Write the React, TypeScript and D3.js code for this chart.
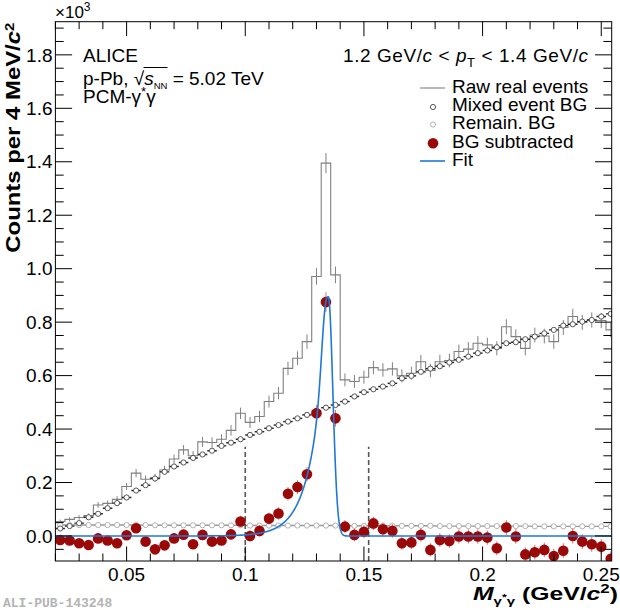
import React from "react";
import * as d3 from "d3";

// ---------- data (units of 10^3 counts per 4 MeV/c^2) ----------
const BIN_START = 0.02;
const BIN_WIDTH = 0.004;

const rawRealEvents = [
  0.054, 0.062, 0.069, 0.076, 0.116, 0.122, 0.137, 0.185, 0.235, 0.212,
  0.218, 0.247, 0.288, 0.322, 0.300, 0.352, 0.350, 0.362, 0.395, 0.459,
  0.425, 0.447, 0.503, 0.534, 0.627, 0.665, 0.727, 0.971, 1.395, 0.977,
  0.584, 0.578, 0.594, 0.630, 0.621, 0.625, 0.599, 0.609, 0.652, 0.619,
  0.652, 0.656, 0.690, 0.699, 0.721, 0.715, 0.702, 0.783, 0.746, 0.702,
  0.752, 0.748, 0.727, 0.780, 0.821, 0.799, 0.808, 0.806, 0.771,
];

const mixedEventBG = [
  0.028, 0.037, 0.048, 0.070, 0.083, 0.104, 0.123, 0.144, 0.170, 0.190,
  0.215, 0.240, 0.260, 0.275, 0.292, 0.305, 0.319, 0.337, 0.349, 0.362,
  0.378, 0.390, 0.403, 0.415, 0.428, 0.440, 0.453, 0.468, 0.480, 0.490,
  0.503, 0.522, 0.538, 0.549, 0.559, 0.571, 0.590, 0.599, 0.614, 0.626,
  0.635, 0.649, 0.659, 0.671, 0.684, 0.694, 0.706, 0.721, 0.725, 0.736,
  0.746, 0.758, 0.771, 0.787, 0.792, 0.802, 0.808, 0.821, 0.831,
];

const remainBG = [
  0.041, 0.041, 0.041, 0.041, 0.041, 0.041, 0.041, 0.041, 0.041, 0.041,
  0.040, 0.040, 0.040, 0.040, 0.040, 0.040, 0.040, 0.040, 0.040, 0.040,
  0.039, 0.039, 0.039, 0.039, 0.039, 0.039, 0.039, 0.039, 0.039, 0.039,
  0.038, 0.038, 0.038, 0.038, 0.038, 0.038, 0.038, 0.038, 0.038, 0.038,
  0.037, 0.037, 0.037, 0.037, 0.037, 0.037, 0.037, 0.037, 0.037, 0.037,
  0.036, 0.036, 0.036, 0.036, 0.036, 0.036, 0.036, 0.036, 0.036,
];

const bgSubtracted = [
  -0.015, -0.017, -0.027, -0.034, -0.009, -0.017, -0.027, 0.003, 0.029, -0.021,
  -0.050, -0.035, -0.009, 0.005, -0.031, 0.004, -0.021, -0.017, 0.006, 0.054,
  0.000, 0.019, 0.065, 0.084, 0.158, 0.183, 0.231, 0.459, 0.875, 0.440,
  0.035, 0.004, 0.016, 0.047, 0.025, 0.019, -0.027, -0.024, 0.004, -0.052,
  -0.015, -0.019, -0.002, -0.002, -0.002, -0.006, -0.046, 0.032, -0.002, -0.069,
  -0.061, -0.052, -0.075, -0.055, 0.000, -0.021, -0.031, -0.040, -0.085,
];

// fit: Gaussian with exponential low-mass tail
const FIT_AMPLITUDE = 0.895;
const FIT_MASS = 0.135;
const FIT_SIGMA = 0.0019;
const FIT_LAMBDA = 0.0065;

const integrationWindow = [0.1, 0.152];
const WINDOW_TOP = 0.334;

const xMajorTicks = [0.05, 0.1, 0.15, 0.2, 0.25];
const xTickLabels = ["0.05", "0.1", "0.15", "0.2", "0.25"];
const yMajorTicks = [0, 0.2, 0.4, 0.6, 0.8, 1.0, 1.2, 1.4, 1.6, 1.8];
const yTickLabels = ["0.0", "0.2", "0.4", "0.6", "0.8", "1.0", "1.2", "1.4", "1.6", "1.8"];

// ---------- layout ----------
const W = 620;
const H = 610;
const L = 55.4;
const R = 611.7;
const T = 21.7;
const B = 561;
const FONT = "'Liberation Sans', Arial, Helvetica, sans-serif";

const x = d3.scaleLinear().domain([0.02, 0.2544]).range([L, R]);
const y = d3.scaleLinear().domain([-0.0936, 1.924]).range([B, T]);

const lo = (k: number) => BIN_START + k * BIN_WIDTH;
const hi = (k: number) => BIN_START + (k + 1) * BIN_WIDTH;
const mid = (k: number) => BIN_START + (k + 0.5) * BIN_WIDTH;
const poisson = (v: number) => Math.sqrt(Math.max(v, 0) * 1000) / 1000;

const fitFn = (m: number) => {
  const g = Math.exp(-0.5 * ((m - FIT_MASS) / FIT_SIGMA) ** 2);
  const tail = m < FIT_MASS ? (1 - g) * Math.exp((m - FIT_MASS) / FIT_LAMBDA) : 0;
  return FIT_AMPLITUDE * (g + tail);
};

export default function App() {
  let rawPath = "";
  rawRealEvents.forEach((v, k) => {
    rawPath += (k === 0 ? `M${x(lo(k))},${y(v)}` : `V${y(v)}`) + `H${x(hi(k))}`;
  });

  const fitSamples = d3.range(0, 2346).map((i) => 0.02 + i * 0.0001);
  const fitPath = d3
    .line<number>()
    .x((m) => x(m))
    .y((m) => y(fitFn(m)))(fitSamples) as string;

  const remainPath = d3
    .line<number>()
    .x((_, k) => x(mid(k)))
    .y((v) => y(v))(remainBG) as string;

  const xMinor = d3.range(2, 26).map((i) => i / 100);
  const yMinor = d3.range(-1, 39).map((i) => i * 0.05);

  return (
    <svg
      width={W}
      height={H}
      viewBox={`0 0 ${W} ${H}`}
      style={{ position: "absolute", left: 0, top: 0, background: "#fff" }}
      fontFamily={FONT}
    >
      <defs>
        <clipPath id="plotClip">
          <rect x={L} y={T} width={R - L} height={B - T} />
        </clipPath>
      </defs>
      <rect x={0} y={0} width={W} height={H} fill="#fff" />

      <g clipPath="url(#plotClip)">
        {/* raw real events */}
        <path d={rawPath} fill="none" stroke="#808080" strokeWidth={1.1} />
        {rawRealEvents.map((v, k) => (
          <line
            key={"re" + k}
            x1={x(mid(k))}
            x2={x(mid(k))}
            y1={y(v - poisson(v))}
            y2={y(v + poisson(v))}
            stroke="#808080"
            strokeWidth={1}
          />
        ))}

        {/* remaining BG */}
        <path d={remainPath} fill="none" stroke="#999" strokeWidth={1.4} />
        {remainBG.map((v, k) => (
          <circle key={"rb" + k} cx={x(mid(k))} cy={y(v)} r={2.6} fill="#fff" stroke="#aaaaaa" strokeWidth={0.9} />
        ))}

        {/* mixed event BG */}
        {mixedEventBG.map((v, k) => (
          <line
            key={"mh" + k}
            x1={x(lo(k))}
            x2={x(hi(k))}
            y1={y(v)}
            y2={y(v)}
            stroke="#222"
            strokeWidth={1.4}
          />
        ))}
        {mixedEventBG.map((v, k) => (
          <circle key={"mb" + k} cx={x(mid(k))} cy={y(v)} r={2.6} fill="#fff" stroke="#444" strokeWidth={0.9} />
        ))}

        {/* integration window */}
        {integrationWindow.map((m, i) => (
          <line
            key={"win" + i}
            x1={x(m)}
            x2={x(m)}
            y1={B}
            y2={y(WINDOW_TOP)}
            stroke="#555"
            strokeWidth={1.6}
            strokeDasharray="5,3"
          />
        ))}

        {/* BG subtracted */}
        {bgSubtracted.map((v, k) => (
          <line
            key={"se" + k}
            x1={x(mid(k))}
            x2={x(mid(k))}
            y1={y(v - poisson(rawRealEvents[k]))}
            y2={y(v + poisson(rawRealEvents[k]))}
            stroke="#e07070"
            strokeWidth={1}
          />
        ))}
        {bgSubtracted.map((v, k) => (
          <circle key={"sb" + k} cx={x(mid(k))} cy={y(v)} r={5.3} fill="#9a0808" />
        ))}

        {/* fit */}
        <path d={fitPath} fill="none" stroke="#1f78d8" strokeWidth={1.6} />
      </g>

      {/* frame */}
      <rect x={L} y={T} width={R - L} height={B - T} fill="none" stroke="#000" strokeWidth={1} />

      {/* x ticks bottom + top */}
      {xMinor.map((m, i) => {
        const major = Math.round(m * 100) % 5 === 0;
        const len = major ? 14.5 : 7.5;
        return (
          <g key={"xt" + i} stroke="#000" strokeWidth={1}>
            <line x1={x(m)} x2={x(m)} y1={B} y2={B - len} />
            <line x1={x(m)} x2={x(m)} y1={T} y2={T + len} />
          </g>
        );
      })}
      {/* y ticks left + right */}
      {yMinor.map((v, i) => {
        if (y(v) > B + 0.1 || y(v) < T - 0.1) return null;
        const major = (i - 1) % 4 === 0;
        const len = major ? 16.7 : 8.3;
        return (
          <g key={"yt" + i} stroke="#000" strokeWidth={1}>
            <line x1={L} x2={L + len} y1={y(v)} y2={y(v)} />
            <line x1={R} x2={R - len} y1={y(v)} y2={y(v)} />
          </g>
        );
      })}

      {/* tick labels */}
      {xMajorTicks.map((m, i) => (
        <text key={"xl" + i} x={x(m)} y={581} fontSize={19} textAnchor="middle" fill="#000">
          {xTickLabels[i]}
        </text>
      ))}
      {yMajorTicks.map((v, i) => (
        <text key={"yl" + i} x={52.5} y={y(v) + 6.7} fontSize={19} textAnchor="end" fill="#000">
          {yTickLabels[i]}
        </text>
      ))}

      {/* exponent */}
      <text x={55} y={18} fontSize={17} fill="#000">
        ×10<tspan dy={-7} fontSize={12}>3</tspan>
      </text>

      {/* axis titles */}
      <text
        transform={`translate(19.5,${T + 1}) rotate(-90)`}
        textAnchor="end"
        fontSize={21}
        fontWeight="bold"
        fill="#000"
        textLength={230}
        lengthAdjust="spacingAndGlyphs"
      >
        Counts per 4 MeV/<tspan fontStyle="italic">c</tspan>
        <tspan dy={-6} fontSize={13}>2</tspan>
      </text>
      <text
        x={618}
        y={600}
        textAnchor="end"
        fontSize={19}
        fontWeight="bold"
        fill="#000"
        textLength={145}
        lengthAdjust="spacingAndGlyphs"
      >
        <tspan fontStyle="italic">M</tspan>
        <tspan dy={5} fontSize={11.5}>γ</tspan>
        <tspan dy={-5} fontSize={9.5}>*</tspan>
        <tspan dy={5} fontSize={11.5}>γ</tspan>
        <tspan dy={-5}> (GeV/</tspan>
        <tspan fontStyle="italic">c</tspan>
        <tspan dy={-7} fontSize={13}>2</tspan>
        <tspan dy={7}>)</tspan>
      </text>

      {/* system labels */}
      <text x={83} y={61.7} fontSize={19} fill="#000">ALICE</text>
      <text x={83} y={85} fontSize={19} fill="#000">
        p-Pb, √<tspan fontStyle="italic">s</tspan>
        <tspan dy={3.5} fontSize={9.5}>NN</tspan>
        <tspan dy={-3.5}> = 5.02 TeV</tspan>
      </text>
      <line x1={143.5} x2={167.5} y1={67.5} y2={67.5} stroke="#000" strokeWidth={1} />
      <text x={83} y={103.3} fontSize={19} fill="#000">
        PCM-γ<tspan dy={-7} fontSize={13}>*</tspan>
        <tspan dy={7}>γ</tspan>
      </text>

      <text x={588} y={61.7} fontSize={19} textAnchor="end" fill="#000" textLength={245} lengthAdjust="spacing">
        1.2 GeV/<tspan fontStyle="italic">c</tspan> &lt; <tspan fontStyle="italic">p</tspan>
        <tspan dy={5} fontSize={13}>T</tspan>
        <tspan dy={-5}> &lt; 1.4 GeV/</tspan>
        <tspan fontStyle="italic">c</tspan>
      </text>

      {/* legend */}
      <line x1={420} x2={445} y1={88} y2={88} stroke="#808080" strokeWidth={1.1} />
      <text x={452} y={93} fontSize={19} fill="#000">Raw real events</text>
      <circle cx={433} cy={107} r={2.6} fill="#fff" stroke="#444" strokeWidth={0.9} />
      <text x={452} y={110.5} fontSize={19} fill="#000">Mixed event BG</text>
      <circle cx={433} cy={124.5} r={2.6} fill="#fff" stroke="#aaaaaa" strokeWidth={0.9} />
      <text x={452} y={128.5} fontSize={19} fill="#000">Remain. BG</text>
      <circle cx={433} cy={143.3} r={5.3} fill="#9a0808" />
      <text x={452} y={147.7} fontSize={19} fill="#000">BG subtracted</text>
      <line x1={420} x2={445} y1={161} y2={161} stroke="#1f78d8" strokeWidth={1.6} />
      <text x={452} y={165.7} fontSize={19} fill="#000">Fit</text>

      {/* watermark */}
      <text x={3} y={607} fontSize={13} fontFamily="'Liberation Mono', 'DejaVu Sans Mono', monospace" fontWeight="bold" fill="#b4b4b4">
        ALI-PUB-143248
      </text>
    </svg>
  );
}
